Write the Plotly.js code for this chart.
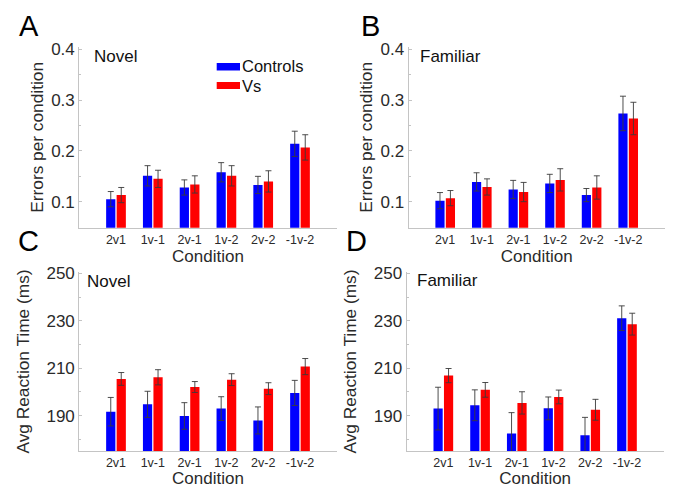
<!DOCTYPE html>
<html>
<head>
<meta charset="utf-8">
<script src="https://cdn.plot.ly/plotly-3.0.1.min.js"></script>
<style>html,body{margin:0;padding:0;background:#fff;}#chart{width:673px;height:488px;}</style>
</head>
<body>
<div id="chart"></div>
<script>
// ---- data ----
var categories = ['2v1', '1v-1', '2v-1', '1v-2', '2v-2', '-1v-2'];
var seriesNames = ['Controls', 'Vs'];

var errNovelControls   = [0.105, 0.151, 0.128, 0.158, 0.133, 0.214];
var errNovelControlsSE = [0.015, 0.020, 0.015, 0.019, 0.017, 0.025];
var errNovelVs         = [0.113, 0.145, 0.134, 0.151, 0.140, 0.207];
var errNovelVsSE       = [0.015, 0.017, 0.017, 0.020, 0.021, 0.025];

var errFamControls     = [0.102, 0.139, 0.124, 0.136, 0.113, 0.274];
var errFamControlsSE   = [0.016, 0.018, 0.018, 0.018, 0.013, 0.034];
var errFamVs           = [0.107, 0.129, 0.119, 0.143, 0.128, 0.264];
var errFamVsSE         = [0.015, 0.016, 0.019, 0.022, 0.023, 0.032];

var rtNovelControls    = [191.7, 194.8, 189.9, 193.0, 188.0, 199.6];
var rtNovelControlsSE  = [6.0, 5.5, 5.6, 5.0, 5.7, 5.3];
var rtNovelVs          = [205.5, 206.2, 202.1, 205.2, 201.4, 210.7];
var rtNovelVsSE        = [2.7, 3.2, 2.3, 2.5, 2.5, 3.4];

var rtFamControls      = [193.0, 194.4, 182.5, 193.1, 181.8, 231.1];
var rtFamControlsSE    = [9.0, 6.5, 8.8, 4.8, 7.5, 5.2];
var rtFamVs            = [206.9, 200.9, 195.4, 197.9, 192.5, 228.6];
var rtFamVsSE          = [3.0, 3.1, 4.7, 2.9, 4.4, 4.6];

var errTicks = [0.1, 0.2, 0.3, 0.4];
var rtTicks = [190, 210, 230, 250];

// ---- style ----
var FONT = 'Liberation Sans, Arial, Helvetica, sans-serif';
var BLUE = '#0000ff', RED = '#ff0000';
var AXC = '#c4c4c4', TXT = '#2a2a2a';
var W = 673, H = 488;
function px(x) { return x / W; }
function py(y) { return 1 - y / H; }

function bar(name, vals, se, color, xa, ya) {
  return {
    type: 'bar', name: name, x: categories, y: vals,
    xaxis: xa, yaxis: ya, showlegend: false,
    marker: {color: color, line: {width: 0}},
    error_y: {type: 'data', array: se, visible: true, color: '#3a3a3a', thickness: 0.9, width: 3}
  };
}

var data = [
  bar(seriesNames[0], errNovelControls, errNovelControlsSE, BLUE, 'x', 'y'),
  bar(seriesNames[1], errNovelVs, errNovelVsSE, RED, 'x', 'y'),
  bar(seriesNames[0], errFamControls, errFamControlsSE, BLUE, 'x2', 'y2'),
  bar(seriesNames[1], errFamVs, errFamVsSE, RED, 'x2', 'y2'),
  bar(seriesNames[0], rtNovelControls, rtNovelControlsSE, BLUE, 'x3', 'y3'),
  bar(seriesNames[1], rtNovelVs, rtNovelVsSE, RED, 'x3', 'y3'),
  bar(seriesNames[0], rtFamControls, rtFamControlsSE, BLUE, 'x4', 'y4'),
  bar(seriesNames[1], rtFamVs, rtFamVsSE, RED, 'x4', 'y4')
];

function xax(x0, x1, y0, y1, anchor) {
  return {
    domain: [px(x0), px(x1)], anchor: anchor, type: 'category',
    range: [-1, 6], showgrid: false, zeroline: false,
    showline: true, linecolor: AXC, linewidth: 1, ticks: '',
    tickfont: {family: FONT, size: 12.5, color: TXT},
    title: {text: 'Condition', font: {family: FONT, size: 17, color: TXT}, standoff: 4},
    automargin: false, fixedrange: true
  };
}
function yax(y0, y1, range, ticks, dtick, title, anchor, standoff) {
  return {
    domain: [py(y1), py(y0)], anchor: anchor, range: range,
    tickvals: ticks, ticktext: ticks.map(String),
    showgrid: false, zeroline: false,
    showline: true, linecolor: AXC, linewidth: 1,
    ticks: 'inside', ticklen: 3, tickcolor: AXC,
    minor: {ticks: 'inside', ticklen: 2, tickcolor: AXC, dtick: dtick / 2, tick0: ticks[0] - dtick / 2, showgrid: false},
    tickfont: {family: FONT, size: 17, color: TXT},
    title: {text: title, font: {family: FONT, size: 17.3, color: TXT}, standoff: standoff},
    automargin: false, fixedrange: true
  };
}

var layout = {
  width: W, height: H,
  margin: {l: 0, r: 0, t: 0, b: 0},
  paper_bgcolor: '#fff', plot_bgcolor: 'rgba(0,0,0,0)',
  barmode: 'group', bargap: 0.43, bargroupgap: 0.12,
  showlegend: false,
  xaxis:  xax(79.2, 336.8, 47, 227.7, 'y'),
  yaxis:  yax(47, 227.7, [0.0487, 0.405], errTicks, 0.1, 'Errors per condition', 'x', 3),
  xaxis2: xax(408.6, 664.8, 47, 227.7, 'y2'),
  yaxis2: yax(47, 227.7, [0.0487, 0.405], errTicks, 0.1, 'Errors per condition', 'x2', 3),
  xaxis3: xax(79.2, 336.8, 271.7, 451.3, 'y3'),
  yaxis3: yax(271.7, 451.3, [175, 250.7], rtTicks, 20, 'Avg Reaction Time (ms)', 'x3', 12),
  xaxis4: xax(406.6, 663.7, 271.7, 451.3, 'y4'),
  yaxis4: yax(271.7, 451.3, [175, 250.7], rtTicks, 20, 'Avg Reaction Time (ms)', 'x4', 12),
  shapes: [
    {type: 'rect', xref: 'paper', yref: 'paper', x0: px(216.7), x1: px(240), y0: py(70.5), y1: py(63), fillcolor: BLUE, line: {width: 0}},
    {type: 'rect', xref: 'paper', yref: 'paper', x0: px(216.7), x1: px(240), y0: py(89), y1: py(82), fillcolor: RED, line: {width: 0}}
  ],
  annotations: [
    {text: seriesNames[0], xref: 'paper', yref: 'paper', x: px(241), y: py(76), xanchor: 'left', yanchor: 'bottom', borderpad: 0, showarrow: false, font: {family: FONT, size: 16.5, color: '#111'}},
    {text: seriesNames[1], xref: 'paper', yref: 'paper', x: px(241), y: py(76), xanchor: 'left', yanchor: 'top', borderpad: 0, showarrow: false, font: {family: FONT, size: 16.5, color: '#111'}},
    {text: 'A', xref: 'paper', yref: 'paper', x: px(29.5), y: py(26), xanchor: 'center', yanchor: 'middle', showarrow: false, font: {family: FONT, size: 29, color: '#000'}},
    {text: 'B', xref: 'paper', yref: 'paper', x: px(370), y: py(26), xanchor: 'center', yanchor: 'middle', showarrow: false, font: {family: FONT, size: 29, color: '#000'}},
    {text: 'C', xref: 'paper', yref: 'paper', x: px(28), y: py(241), xanchor: 'center', yanchor: 'middle', showarrow: false, font: {family: FONT, size: 29, color: '#000'}},
    {text: 'D', xref: 'paper', yref: 'paper', x: px(356), y: py(241), xanchor: 'center', yanchor: 'middle', showarrow: false, font: {family: FONT, size: 29, color: '#000'}},
    {text: 'Novel', xref: 'paper', yref: 'paper', x: px(92), y: py(56), xanchor: 'left', yanchor: 'middle', showarrow: false, font: {family: FONT, size: 17, color: '#111'}},
    {text: 'Familiar', xref: 'paper', yref: 'paper', x: px(418), y: py(56), xanchor: 'left', yanchor: 'middle', showarrow: false, font: {family: FONT, size: 17, color: '#111'}},
    {text: 'Novel', xref: 'paper', yref: 'paper', x: px(85), y: py(281.5), xanchor: 'left', yanchor: 'middle', showarrow: false, font: {family: FONT, size: 17, color: '#111'}},
    {text: 'Familiar', xref: 'paper', yref: 'paper', x: px(415), y: py(280.5), xanchor: 'left', yanchor: 'middle', showarrow: false, font: {family: FONT, size: 17, color: '#111'}}
  ]
};

Plotly.newPlot('chart', data, layout, {staticPlot: true, displayModeBar: false});
</script>
</body>
</html>
